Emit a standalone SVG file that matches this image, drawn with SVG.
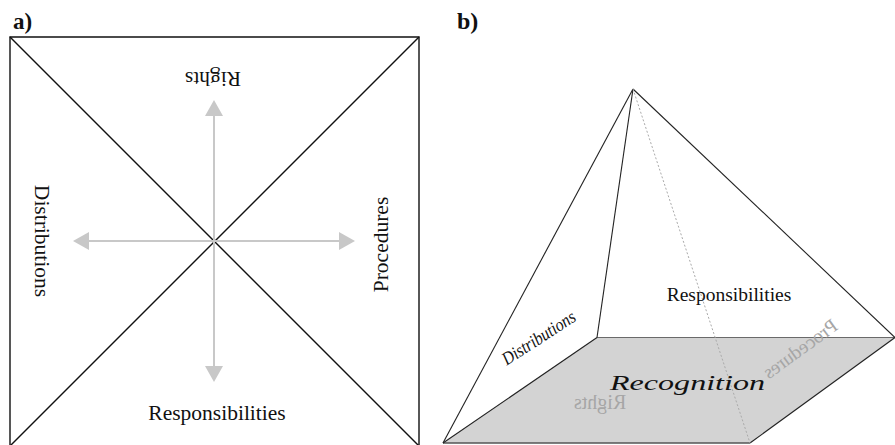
<svg xmlns="http://www.w3.org/2000/svg" width="895" height="445" viewBox="0 0 895 445">
<style>
.t{font-family:"Liberation Serif","Times New Roman",serif;fill:#111}
.ln{stroke:#111;stroke-width:1.4;fill:none}
.pl{stroke:#222;stroke-width:1.1;fill:none}
.ar{stroke:#c8c8c8;stroke-width:2;fill:none}
.ah{fill:#c8c8c8}
.gt{font-family:"Liberation Serif","Times New Roman",serif;fill:#a6a6a6}
</style>
<rect width="895" height="445" fill="#fff"/>
<text class="t" x="13" y="29" font-size="23" font-weight="bold">a)</text>
<text class="t" x="457" y="29" font-size="24" font-weight="bold">b)</text>

<g id="panel-a">
  <g id="square">
    <polyline class="ln" points="10,447 10,37 419,37 419,447"/>
    <line class="ln" x1="10" y1="37" x2="419" y2="446"/>
    <line class="ln" x1="419" y1="37" x2="10" y2="446"/>
  </g>
  <g id="arrows">
    <line class="ar" x1="214" y1="113" x2="214" y2="369"/>
    <line class="ar" x1="86" y1="241" x2="342" y2="241"/>
    <polygon class="ah" points="214,100 205,116 223,116"/>
    <polygon class="ah" points="214,382 205,366 223,366"/>
    <polygon class="ah" points="73,241 89,232 89,250"/>
    <polygon class="ah" points="355,241 339,232 339,250"/>
  </g>
  <g id="label-rights-a"><text class="t" font-size="21.5" text-anchor="middle" transform="translate(213,72) rotate(180)">Rights</text></g>
  <g id="label-resp-a"><text class="t" x="217" y="420" font-size="21.5" text-anchor="middle">Responsibilities</text></g>
  <g id="label-dist-a"><text class="t" font-size="21.5" text-anchor="middle" transform="translate(35,241) rotate(90)">Distributions</text></g>
  <g id="label-proc-a"><text class="t" font-size="21.5" text-anchor="middle" transform="translate(388,244.5) rotate(-90)">Procedures</text></g>
</g>

<g id="panel-b">
  <g id="base">
    <polygon points="443,443 597,337.5 895,337.5 750,443" fill="#d3d3d3"/>
    <line x1="597" y1="337.5" x2="895" y2="337.5" stroke="#6a6a6a" stroke-width="1.2"/>
    <line x1="443" y1="443" x2="750" y2="443" stroke="#555" stroke-width="1.5"/>
    <line class="pl" x1="443" y1="443" x2="597" y2="337.5"/>
    <line class="pl" x1="895" y1="337.5" x2="750" y2="443"/>
  </g>
  <g id="edges">
    <line class="pl" x1="633" y1="89" x2="443" y2="443"/>
    <line class="pl" x1="633" y1="89" x2="597" y2="337.5"/>
    <line class="pl" x1="633" y1="89" x2="895" y2="337.5"/>
    <line x1="633" y1="89" x2="750" y2="443" stroke="#aaa" stroke-width="1" stroke-dasharray="2,2"/>
  </g>
  <g id="label-resp-b"><text class="t" x="729" y="301" font-size="19.5" text-anchor="middle">Responsibilities</text></g>
  <g id="label-dist-b"><text class="t" font-size="18.5" font-style="italic" text-anchor="middle" textLength="84" lengthAdjust="spacingAndGlyphs" transform="translate(542,343) rotate(-33)">Distributions</text></g>
  <g id="label-recog"><text class="t" x="610" y="390" font-size="22" font-style="italic" textLength="155" lengthAdjust="spacingAndGlyphs">Recognition</text></g>
  <g id="label-rights-b"><text class="gt" font-size="20" text-anchor="middle" transform="translate(600,409) scale(-1,1)">Rights</text></g>
  <g id="label-proc-b"><text class="gt" font-size="19.5" text-anchor="middle" transform="translate(804,354) rotate(-36) scale(-1,1)">Procedures</text></g>
</g>
</svg>
